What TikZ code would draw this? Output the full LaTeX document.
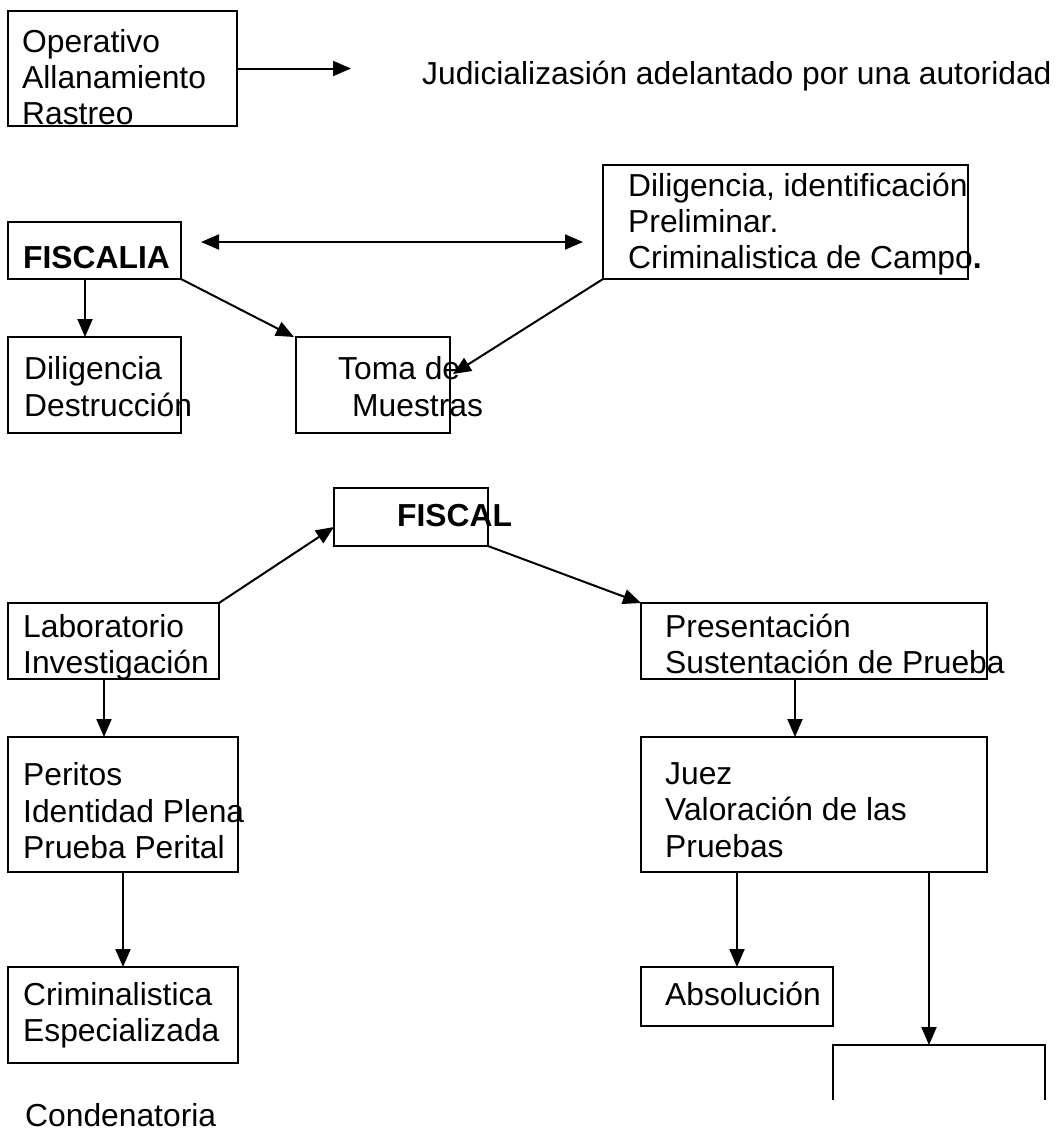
\documentclass[tikz,border=0pt]{standalone}
\usepackage{fontspec}
\setmainfont{Liberation Sans}
\usetikzlibrary{arrows.meta}
\begin{document}
\begin{tikzpicture}[x=1pt,y=-1pt,
  box/.style={draw, line width=2pt, inner sep=0pt, outer sep=0pt, anchor=north west},
  txt/.style={anchor=base west, inner sep=0pt, font=\fontsize{31.8}{36}\selectfont},
  btxt/.style={txt, font=\fontsize{31.8}{36}\selectfont\bfseries},
  arr/.style={line width=2pt, -{Triangle[length=18pt,width=15pt]}},
  darr/.style={line width=2pt, {Triangle[length=18pt,width=15pt]}-{Triangle[length=18pt,width=15pt]}}]
\useasboundingbox (0,0) rectangle (1060,1136);
% boxes
\node[box, minimum width=229pt, minimum height=115pt] (op) at (8,11) {};
\node[box, minimum width=365pt, minimum height=114pt] (dilid) at (603,165) {};
\node[box, minimum width=173pt, minimum height=57pt] (fiscalia) at (8,222) {};
\node[box, minimum width=173pt, minimum height=96pt] (dildes) at (8,337) {};
\node[box, minimum width=154pt, minimum height=96pt] (toma) at (296,337) {};
\node[box, minimum width=154pt, minimum height=58pt] (fiscal) at (334,488) {};
\node[box, minimum width=211pt, minimum height=76pt] (lab) at (8,603) {};
\node[box, minimum width=346pt, minimum height=76pt] (pres) at (641,603) {};
\node[box, minimum width=230pt, minimum height=135pt] (peritos) at (8,737) {};
\node[box, minimum width=346pt, minimum height=135pt] (juez) at (641,737) {};
\node[box, minimum width=230pt, minimum height=96pt] (crim) at (8,967) {};
\node[box, minimum width=192pt, minimum height=59pt] (abs) at (641,967) {};
\node[box, draw=none, minimum width=212pt, minimum height=55pt] (open) at (833,1045) {};
\draw[line width=2pt] (open.south west) -- (open.north west) -- (open.north east) -- (open.south east);
% texts
\node[txt] (t1) at (22,52) {Operativo};
\node[txt] (t2) at (22,88) {Allanamiento};
\node[txt] (t3) at (22,124) {Rastreo};
\node[txt] (jud) at (422,84) {Judicializasión adelantado por una autoridad};
\node[txt] (d1) at (628,196) {Diligencia, identificación};
\node[txt] (d2) at (628,232) {Preliminar.};
\node[txt] (d3) at (628,268) {Criminalistica de Campo\textbf{.}};
\node[btxt] (fa) at (23,268) {FISCALIA};
\node[txt] (dd1) at (24,379) {Diligencia};
\node[txt] (dd2) at (24,416) {Destrucción};
\node[txt] (tm1) at (338,379) {Toma de};
\node[txt] (tm2) at (352,416) {Muestras};
\node[btxt] (fl) at (397,526) {FISCAL};
\node[txt] (l1) at (23,637) {Laboratorio};
\node[txt] (l2) at (23,673) {Investigación};
\node[txt] (p1) at (665,637) {Presentación};
\node[txt] (p2) at (665,673) {Sustentación de Prueba};
\node[txt] (pe1) at (23,785) {Peritos};
\node[txt] (pe2) at (23,822) {Identidad Plena};
\node[txt] (pe3) at (23,858) {Prueba Perital};
\node[txt] (j1) at (665,784) {Juez};
\node[txt] (j2) at (665,820) {Valoración de las};
\node[txt] (j3) at (665,857) {Pruebas};
\node[txt] (c1) at (23,1005) {Criminalistica};
\node[txt] (c2) at (23,1041) {Especializada};
\node[txt] (ab) at (665,1005) {Absolución};
\node[txt] (cond) at (25,1126) {Condenatoria};
% connectors
\coordinate (jtip) at (351,68.5);
\draw[arr] (op.east) -- (jtip);
\coordinate (dl) at (201,242);
\coordinate (dr) at (583,242);
\draw[darr] (dl) -- (dr);
\draw[arr] ([xshift=-9.5pt]fiscalia.south) -- ([xshift=-9.5pt]dildes.north);
\draw[arr] (fiscalia.south east) -- ([xshift=-2pt]toma.north west);
\draw[arr] (dilid.south west) -- ([xshift=3pt,yshift=11pt]toma.east);
\draw[arr] (lab.north east) -- ([yshift=-10pt]fiscal.west);
\draw[arr] (fiscal.south east) -- (pres.north west);
\draw[arr] ([xshift=-9.5pt]lab.south) -- ([xshift=-9.5pt]lab.south |- peritos.north);
\draw[arr] (peritos.south) -- (crim.north);
\draw[arr] ([xshift=-19pt]pres.south) -- ([xshift=-19pt]juez.north);
\draw[arr] (abs.north |- juez.south) -- (abs.north);
\draw[arr] ([xshift=-10pt]open.north |- juez.south) -- ([xshift=-10pt]open.north);
\end{tikzpicture}
\end{document}
